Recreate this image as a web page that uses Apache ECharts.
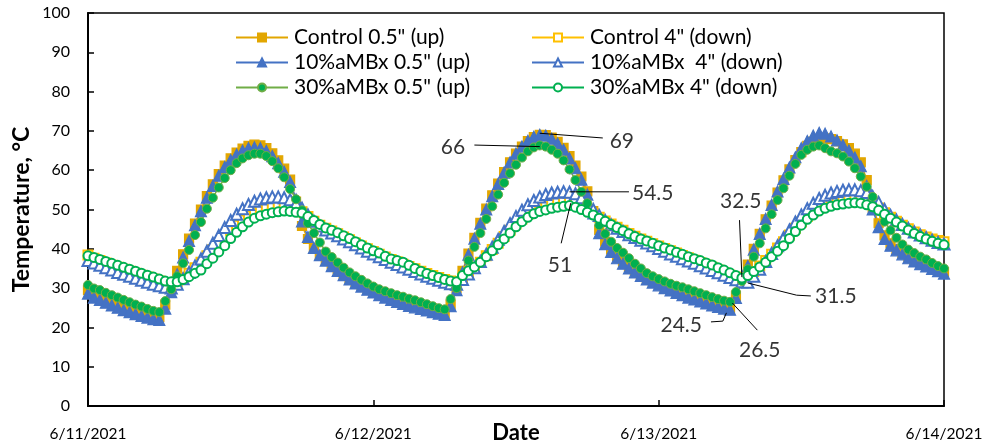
<!DOCTYPE html>
<html>
<head>
<meta charset="utf-8">
<script src="https://cdn.jsdelivr.net/npm/echarts@6/dist/echarts.min.js"></script>
<style>
  html, body { margin: 0; padding: 0; background: #fff; }
  #chart { width: 988px; height: 447px; }
</style>
</head>
<body>
<div id="chart"></div>
<script>
// readings every 30 min from 6/11/2021 0:00 to 6/14/2021 0:00
const dateLabels = ['6/11/2021', '6/12/2021', '6/13/2021', '6/14/2021'];
const stepHours = 0.5;

const control05 = [
  29.5, 28.4, 27.7, 27.0, 26.3, 25.7, 25.1, 24.6, 24.1, 23.6, 23.2, 22.8, 22.6, 25.8, 30.0, 34.4,
  38.6, 42.6, 46.4, 50.0, 53.4, 56.4, 59.0, 61.2, 63.0, 64.5, 65.5, 66.2, 66.5, 66.3, 65.6, 64.3,
  62.5, 60.4, 57.6, 52.0, 45.8, 42.5, 40.0, 38.4, 37.2, 36.0, 34.8, 33.7, 32.6, 31.6, 30.8, 30.0,
  29.3, 28.6, 28.0, 27.4, 26.9, 26.4, 25.9, 25.5, 25.1, 24.7, 24.3, 23.9, 23.6, 25.8, 30.0, 34.4,
  38.8, 42.8, 46.6, 50.2, 53.6, 56.6, 59.5, 62.0, 64.2, 66.0, 67.4, 68.4, 69.0, 68.9, 68.3, 67.2,
  65.7, 63.6, 61.2, 58.4, 54.6, 49.6, 44.8, 41.8, 39.8, 38.1, 36.7, 35.4, 34.4, 33.4, 32.5, 31.7,
  31.0, 30.3, 29.7, 29.1, 28.5, 27.9, 27.4, 26.9, 26.4, 25.9, 25.5, 25.1, 24.8, 28.0, 32.0, 36.0,
  40.0, 43.8, 47.5, 51.0, 54.3, 57.4, 60.2, 62.6, 64.6, 66.2, 67.3, 67.9, 68.1, 67.9, 67.4, 66.6,
  65.6, 64.2, 62.0, 57.5, 50.5, 46.5, 43.4, 41.4, 40.0, 38.9, 38.0, 37.2, 36.5, 35.8, 35.2, 34.6,
  34.1
];
const control4 = [
  38.4, 37.6, 37.0, 36.4, 35.8, 35.3, 34.8, 34.3, 33.8, 33.3, 32.8, 32.3, 31.8, 31.4, 31.2, 31.6,
  32.6, 33.8, 35.2, 36.6, 38.2, 39.8, 41.4, 43.0, 44.6, 46.0, 47.3, 48.4, 49.3, 50.0, 50.5, 50.8,
  51.0, 51.0, 50.8, 50.3, 49.4, 48.2, 47.0, 46.0, 45.2, 44.5, 43.8, 43.0, 42.3, 41.5, 40.7, 40.0,
  39.3, 38.6, 37.9, 37.3, 36.7, 36.1, 35.5, 34.9, 34.3, 33.7, 33.2, 32.7, 32.2, 31.8, 31.6, 32.6,
  33.8, 35.2, 36.6, 38.2, 39.8, 41.4, 43.1, 44.7, 46.3, 47.6, 48.8, 49.8, 50.5, 51.1, 51.5, 51.8,
  52.0, 52.0, 51.6, 50.9, 50.0, 49.0, 48.0, 47.1, 46.3, 45.5, 44.7, 43.9, 43.2, 42.5, 41.9, 41.3,
  40.7, 40.1, 39.5, 38.9, 38.3, 37.7, 37.1, 36.5, 35.9, 35.3, 34.6, 33.9, 33.3, 32.8, 32.5, 33.0,
  34.2, 35.6, 37.0, 38.6, 40.2, 41.8, 43.5, 45.2, 46.8, 48.2, 49.4, 50.4, 51.2, 51.8, 52.3, 52.6,
  52.8, 52.9, 52.8, 52.3, 51.5, 50.4, 49.2, 48.0, 47.0, 46.0, 45.1, 44.3, 43.6, 43.0, 42.5, 42.1,
  41.8
];
const mbx10_05 = [
  28.6, 27.6, 27.0, 26.3, 25.6, 25.0, 24.4, 23.9, 23.4, 22.9, 22.5, 22.1, 21.9, 24.8, 29.0, 33.5,
  37.8, 42.0, 46.0, 49.6, 53.0, 56.0, 58.6, 60.8, 62.6, 64.0, 65.0, 65.6, 65.8, 65.6, 64.9, 63.6,
  61.8, 59.6, 57.0, 52.6, 47.0, 43.0, 40.2, 38.4, 37.0, 35.6, 34.4, 33.3, 32.2, 31.2, 30.4, 29.6,
  28.9, 28.2, 27.6, 27.0, 26.5, 26.0, 25.5, 25.1, 24.7, 24.3, 23.9, 23.5, 23.2, 25.4, 29.5, 34.0,
  38.5, 42.6, 46.4, 50.0, 53.4, 56.5, 59.4, 62.0, 64.2, 66.0, 67.5, 68.5, 69.0, 68.8, 68.0, 66.8,
  65.2, 63.0, 60.5, 57.6, 53.8, 49.0, 44.0, 41.2, 39.2, 37.6, 36.2, 35.0, 34.0, 33.1, 32.2, 31.4,
  30.7, 30.0, 29.4, 28.8, 28.2, 27.6, 27.1, 26.6, 26.1, 25.6, 25.2, 24.8, 24.5, 27.5, 31.5, 35.6,
  39.8, 43.8, 47.6, 51.2, 54.6, 57.8, 60.7, 63.3, 65.6, 67.4, 68.8, 69.5, 69.3, 68.6, 67.6, 66.4,
  65.0, 63.2, 61.0, 56.0, 50.0, 45.5, 42.5, 40.8, 39.6, 38.6, 37.6, 36.8, 36.1, 35.5, 34.9, 34.3,
  33.7
];
const mbx10_4 = [
  37.0, 36.4, 35.8, 35.2, 34.6, 34.0, 33.5, 33.0, 32.5, 32.0, 31.5, 31.0, 30.6, 30.2, 30.0, 31.0,
  32.4, 34.0, 35.6, 37.4, 39.4, 41.4, 43.4, 45.4, 47.2, 48.8, 50.2, 51.3, 52.1, 52.7, 53.0, 53.2,
  53.2, 53.0, 52.5, 51.6, 50.3, 48.6, 47.0, 45.8, 44.8, 44.0, 43.3, 42.5, 41.8, 41.0, 40.2, 39.4,
  38.7, 38.0, 37.3, 36.6, 36.0, 35.4, 34.8, 34.2, 33.6, 33.0, 32.5, 32.0, 31.5, 31.1, 31.0, 32.2,
  33.6, 35.2, 36.8, 38.6, 40.4, 42.4, 44.4, 46.4, 48.2, 49.8, 51.2, 52.3, 53.2, 53.8, 54.2, 54.4,
  54.5, 54.4, 54.0, 53.0, 51.6, 50.0, 48.5, 47.2, 46.1, 45.2, 44.4, 43.6, 42.9, 42.2, 41.5, 40.8,
  40.1, 39.4, 38.7, 38.1, 37.5, 36.9, 36.3, 35.7, 35.1, 34.5, 33.9, 33.3, 32.7, 32.1, 31.6, 31.5,
  33.0, 34.8, 36.8, 38.8, 40.8, 42.8, 44.8, 46.8, 48.6, 50.2, 51.6, 52.8, 53.6, 54.2, 54.6, 54.9,
  55.0, 55.0, 54.8, 54.3, 53.3, 51.8, 50.0, 48.5, 47.3, 46.2, 45.2, 44.3, 43.5, 42.8, 42.2, 41.6,
  41.2
];
const mbx30_05 = [
  30.8, 29.9, 29.5, 28.8, 28.2, 27.6, 27.0, 26.4, 25.8, 25.3, 24.7, 24.2, 23.9, 26.7, 29.7, 33.0,
  36.3, 39.7, 43.5, 46.8, 50.2, 53.0, 55.6, 58.0, 60.0, 61.8, 63.0, 63.8, 64.2, 64.2, 63.6, 62.3,
  60.5, 58.2, 55.2, 52.6, 49.8, 46.5, 44.0, 41.6, 39.3, 37.9, 36.5, 35.2, 34.0, 33.0, 32.1, 31.2,
  30.4, 29.7, 29.2, 28.7, 28.2, 27.8, 27.3, 26.9, 26.4, 25.9, 25.4, 24.9, 24.6, 27.2, 30.0, 33.2,
  37.0, 40.5, 44.0, 47.6, 50.8, 53.8, 56.8, 59.2, 61.4, 63.2, 64.8, 65.8, 66.3, 66.0, 65.2, 64.2,
  62.5, 60.2, 57.5, 54.5, 51.6, 48.5, 46.0, 43.8, 41.8, 40.2, 39.0, 37.6, 36.2, 35.0, 33.8, 33.0,
  32.3, 31.7, 31.1, 30.6, 30.2, 29.7, 29.2, 28.7, 28.2, 27.7, 27.2, 26.8, 26.5, 29.0, 31.8, 34.8,
  38.0, 41.4, 45.2, 48.8, 52.4, 55.4, 58.6, 61.6, 63.9, 65.2, 66.0, 66.3, 65.6, 64.8, 64.3, 63.5,
  62.2, 60.5, 58.4, 55.8, 53.2, 50.0, 46.9, 44.7, 42.8, 41.1, 39.8, 38.9, 38.0, 37.3, 36.4, 35.6,
  35.0
];
const mbx30_4 = [
  38.2, 37.8, 37.3, 36.8, 36.3, 35.8, 35.3, 34.8, 34.3, 33.8, 33.3, 32.8, 32.3, 31.8, 31.6, 31.6,
  32.2, 32.9, 33.8, 34.6, 36.2, 37.6, 39.2, 40.8, 42.6, 44.2, 45.6, 46.8, 47.8, 48.4, 48.8, 49.2,
  49.4, 49.6, 49.5, 49.3, 49.1, 48.2, 47.2, 46.2, 45.3, 44.7, 44.1, 43.3, 42.6, 41.8, 41.0, 40.2,
  39.5, 38.9, 38.1, 37.4, 37.0, 36.6, 35.8, 35.0, 34.3, 33.7, 33.2, 32.7, 32.2, 31.8, 31.6, 33.2,
  34.4, 35.4, 36.6, 38.0, 39.5, 41.0, 42.5, 44.0, 45.6, 46.9, 48.0, 48.9, 49.5, 49.9, 50.3, 50.6,
  50.8, 51.0, 50.6, 50.0, 49.3, 48.6, 47.8, 47.0, 46.2, 45.4, 44.6, 43.8, 43.1, 42.5, 42.0, 41.4,
  40.8, 40.2, 39.7, 39.1, 38.6, 38.0, 37.5, 37.0, 36.4, 35.9, 35.2, 34.6, 33.9, 33.2, 32.6, 33.2,
  34.2, 35.4, 36.6, 38.0, 39.4, 40.8, 42.6, 44.4, 46.0, 47.5, 48.6, 49.6, 50.3, 50.8, 51.2, 51.4,
  51.6, 51.7, 51.6, 51.2, 50.7, 49.8, 48.8, 47.8, 46.8, 45.8, 44.8, 43.9, 43.1, 42.5, 41.9, 41.4,
  41.0
];

// callouts: text, where the text sits, and its leader line (hours, °C)
const noteText = ['66', '69', '54.5', '51', '32.5', '31.5', '24.5', '26.5'];
const noteAt = [[30.7, 65.9], [44.9, 67.4], [47.5, 54.2], [39.7, 35.9],
  [54.9, 52.2], [62.9, 28.0], [49.9, 20.6], [56.5, 14.2]];
const noteLeaders = [
  [[32.5, 66.4], [38.0, 66.0]],
  [[38.0, 69.4], [43.3, 68.2]],
  [[40.5, 54.5], [45.5, 54.5]],
  [[40.6, 51.6], [39.8, 41.4]],
  [[54.8, 47.3], [55.0, 32.8]],
  [[55.5, 31.3], [59.6, 28.2], [60.8, 28.0]],
  [[52.4, 21.4], [53.4, 21.6], [53.7, 23.7]],
  [[54.2, 26.2], [56.3, 19.3]]
];

const FONT = 'Lato, "Liberation Sans", sans-serif';
const toXY = arr => arr.map((v, i) => [i * stepHours, v]);

function lineSeries(name, values, symbol, size, color, lineColor, extra) {
  return Object.assign({
    name: name,
    type: 'line',
    data: toXY(values),
    symbol: symbol,
    symbolSize: size,
    showAllSymbol: true,
    lineStyle: { color: lineColor, width: 1.5 },
    itemStyle: { color: color, borderColor: color, borderWidth: 1.2 },
    emphasis: { disabled: true }
  }, extra || {});
}

const chart = echarts.init(document.getElementById('chart'), null, { renderer: 'canvas' });

const legendBase = {
  orient: 'vertical',
  padding: 0,
  itemWidth: 52,
  itemHeight: 10,
  itemGap: 2,
  textStyle: { fontFamily: FONT, fontSize: 21, color: '#000', lineHeight: 23, padding: [0, 0, 0, 1] },
  selectedMode: false
};

chart.setOption({
  animation: false,
  backgroundColor: '#fff',
  grid: {
    left: 88, right: 44, top: 13, bottom: 41,
    outerBoundsMode: 'none',
    show: true, borderColor: '#000', borderWidth: 1.5
  },
  legend: [
    Object.assign({ left: 235, top: 26, data: ['Control 0.5" (up)', '10%aMBx 0.5" (up)', '30%aMBx 0.5" (up)'] }, legendBase),
    Object.assign({ left: 531, top: 26, data: ['Control 4" (down)', '10%aMBx  4" (down)', '30%aMBx 4" (down)'] }, legendBase)
  ],
  xAxis: {
    type: 'value',
    min: 0, max: 72, interval: 24,
    name: 'Date',
    nameLocation: 'middle',
    nameGap: 16,
    nameMoveOverlap: false,
    nameTextStyle: { fontFamily: FONT, fontSize: 22, fontWeight: 'bold', color: '#000', verticalAlign: 'top' },
    axisLine: { lineStyle: { color: '#000', width: 2 } },
    axisTick: { inside: true, length: 6, lineStyle: { color: '#000', width: 1.5 } },
    axisLabel: {
      margin: 20, fontFamily: FONT, fontSize: 15.5, color: '#000',
      formatter: v => dateLabels[Math.round(v / 24)]
    },
    splitLine: { show: false }
  },
  yAxis: {
    type: 'value',
    min: 0, max: 100, interval: 10,
    name: 'Temperature, °C',
    nameLocation: 'middle',
    nameGap: 55,
    nameMoveOverlap: false,
    nameTextStyle: { fontFamily: FONT, fontSize: 23, fontWeight: 'bold', color: '#000' },
    axisLine: { show: true, lineStyle: { color: '#000', width: 2 } },
    axisTick: { show: true, inside: true, length: 6, lineStyle: { color: '#000', width: 1.5 } },
    axisLabel: { margin: 18, fontFamily: FONT, fontSize: 16, color: '#000' },
    splitLine: { show: false }
  },
  series: [
    lineSeries('Control 0.5" (up)', control05, 'rect', 9, '#E2A600', '#E2A600'),
    lineSeries('Control 4" (down)', control4, 'emptyRect', 9, '#FFC000', '#FFC000'),
    lineSeries('10%aMBx 0.5" (up)', mbx10_05, 'triangle', 11, '#4472C4', '#4472C4'),
    lineSeries('10%aMBx  4" (down)', mbx10_4, 'emptyTriangle', 11, '#4472C4', '#4472C4'),
    lineSeries('30%aMBx 0.5" (up)', mbx30_05, 'circle', 9, '#00B050', '#70AD47',
      { itemStyle: { color: '#00B050', borderColor: '#70AD47', borderWidth: 1 } }),
    lineSeries('30%aMBx 4" (down)', mbx30_4, 'emptyCircle', 9, '#00B050', '#00B050'),
    {
      name: 'leaders',
      type: 'lines',
      coordinateSystem: 'cartesian2d',
      polyline: true,
      silent: true,
      z: 10,
      lineStyle: { color: '#000', width: 1, opacity: 1 },
      data: noteLeaders.map(c => ({ coords: c }))
    },
    {
      name: 'notes',
      type: 'scatter',
      silent: true,
      symbolSize: 1,
      itemStyle: { color: 'rgba(0,0,0,0)' },
      z: 11,
      label: {
        show: true, position: 'inside', formatter: '{b}',
        fontFamily: FONT, fontSize: 21, color: '#000'
      },
      data: noteText.map((t, i) => ({ name: t, value: noteAt[i] }))
    }
  ]
});
</script>
</body>
</html>
